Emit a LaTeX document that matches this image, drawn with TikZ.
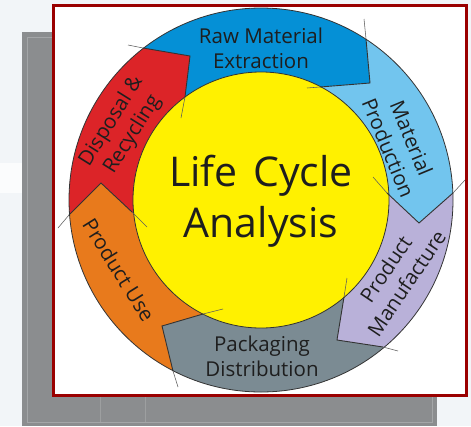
\documentclass[tikz,border=0pt]{standalone}
\usepackage{fontspec}
\setmainfont{Open Sans}
\usetikzlibrary{calc}
\definecolor{bgc}{HTML}{F2F5F8}
\definecolor{bandc}{HTML}{FBFCFD}
\definecolor{graybg}{HTML}{8B8D8F}
\definecolor{grayln}{HTML}{A4A6A8}
\definecolor{framec}{HTML}{9A0000}
\definecolor{cblue}{HTML}{0590D6}
\definecolor{clblue}{HTML}{72C5EE}
\definecolor{cpurple}{HTML}{B9B1D9}
\definecolor{cgray}{HTML}{7B8B93}
\definecolor{corange}{HTML}{E87A1C}
\definecolor{cred}{HTML}{DC2428}
\definecolor{cyellow}{HTML}{FFF100}
\definecolor{txt}{HTML}{1E1E1E}
\definecolor{lnc}{HTML}{333333}
\begin{document}
\begin{tikzpicture}[x=1pt,y=-1pt,
  outl/.style={draw=lnc,line width=0.8pt},
  bnd/.style={draw=lnc,line width=0.9pt,line join=miter},
  ext/.style={draw=lnc!80,line width=0.55pt},
  seglabel/.style={text=txt,inner sep=0pt,align=center,font=\fontsize{20.5}{25}\selectfont},
  biglabel/.style={text=txt,inner sep=0pt,anchor=base,font=\fontsize{41}{48}\selectfont}]
\useasboundingbox (0,0) rectangle (471,426);
% background
\fill[bgc] (0,0) rectangle (471,426);
\fill[bandc] (0,163) rectangle (22,193);
\fill[graybg] (22,32) rectangle (437,426);
\draw[grayln,line width=0.8pt] (27,37) rectangle (432,422);
\draw[grayln!70!graybg,line width=0.8pt] (100,397) -- (100,422) (145,397) -- (145,422);
\draw[framec,line width=3pt,fill=white] (53.5,5.5) rectangle (466.5,395.5);
% geometry
\coordinate (C) at (261,200);
% A: red / blue
\coordinate (Ax1) at (181,118); \coordinate (Ai) at (185,97); \coordinate (Ac) at (190,56); \coordinate (Ao) at (143,48); \coordinate (Ax2) at (128,45);
% B: blue / light blue
\coordinate (Bx1) at (307,88); \coordinate (Bi) at (320,87); \coordinate (Bc) at (370,83); \coordinate (Bo) at (366,39); \coordinate (Bx2) at (364,19);
% Cc: light blue / purple
\coordinate (Cx1) at (373,177); \coordinate (Ci) at (387,193); \coordinate (Cc) at (419,223); \coordinate (Co) at (453,193); \coordinate (Cx2) at (465,180);
% D: purple / gray
\coordinate (Dx1) at (347,278); \coordinate (Di) at (344,297); \coordinate (Dc) at (337,340); \coordinate (Do) at (383,347); \coordinate (Dx2) at (398,351);
% E: gray / orange
\coordinate (Ex1) at (223,309); \coordinate (Ei) at (203,314); \coordinate (Ec) at (162,326); \coordinate (Eo) at (173,371); \coordinate (Ex2) at (178,387);
% F: orange / red
\coordinate (Fx1) at (147,227); \coordinate (Fi) at (132,212); \coordinate (Fc) at (101,183); \coordinate (Fo) at (69,215); \coordinate (Fx2) at (58,228);
% segments
\begin{scope}
\clip (C) -- (Ai) -- (Ac) -- (Ao) -- ($(C)!1.7!(Ao)$) -- ($(C)!1.7!(Bo)$) -- (Bo) -- (Bc) -- (Bi) -- cycle;
\fill[cblue] (C) circle[radius=192pt];
\end{scope}
\begin{scope}
\clip (C) -- (Bi) -- (Bc) -- (Bo) -- ($(C)!1.7!(Bo)$) -- ($(C)!1.7!(Co)$) -- (Co) -- (Cc) -- (Ci) -- cycle;
\fill[clblue] (C) circle[radius=192pt];
\end{scope}
\begin{scope}
\clip (C) -- (Ci) -- (Cc) -- (Co) -- ($(C)!1.7!(Co)$) -- ($(C)!1.7!(Do)$) -- (Do) -- (Dc) -- (Di) -- cycle;
\fill[cpurple] (C) circle[radius=192pt];
\end{scope}
\begin{scope}
\clip (C) -- (Di) -- (Dc) -- (Do) -- ($(C)!1.7!(Do)$) -- ($(C)!1.7!(Eo)$) -- (Eo) -- (Ec) -- (Ei) -- cycle;
\fill[cgray] (C) circle[radius=192pt];
\end{scope}
\begin{scope}
\clip (C) -- (Ei) -- (Ec) -- (Eo) -- ($(C)!1.7!(Eo)$) -- ($(C)!1.7!(Fo)$) -- (Fo) -- (Fc) -- (Fi) -- cycle;
\fill[corange] (C) circle[radius=192pt];
\end{scope}
\begin{scope}
\clip (C) -- (Fi) -- (Fc) -- (Fo) -- ($(C)!1.7!(Fo)$) -- ($(C)!1.7!(Ao)$) -- (Ao) -- (Ac) -- (Ai) -- cycle;
\fill[cred] (C) circle[radius=192pt];
\end{scope}
\draw[outl] (C) circle[radius=192pt];
\draw[outl,fill=cyellow] (C) circle[radius=128pt];
% boundaries
\foreach \b in {A,B,C,D,E,F}{
  \draw[bnd] (\b i) -- (\b c) -- (\b o);
  \draw[ext] (\b x1) -- (\b i);
  \draw[ext] (\b o) -- (\b x2);
}
% labels
\node[biglabel] (lc1) at (261,186) {Life\hspace{5pt} Cycle};
\node[biglabel] (lc2) at (261,237) {Analysis};
\node[seglabel,anchor=base] (raw1) at (261,43) {Raw Material};
\node[seglabel,anchor=base] (raw2) at (261,68) {Extraction};
\node[seglabel,rotate=-67.5] (mat) at (400,143) {Material\\Production};
\node[seglabel,rotate=56] (man) at (396,276) {Product\\Manufacture};
\node[seglabel,anchor=base] (pk1) at (262,351) {Packaging};
\node[seglabel,anchor=base] (pk2) at (262,376) {Distribution};
\node[seglabel,rotate=-58] (use) at (119,270) {Product Use};
\node[seglabel,rotate=58] (dis) at (122,128) {Disposal \&\\Recycling};
\end{tikzpicture}
\end{document}
